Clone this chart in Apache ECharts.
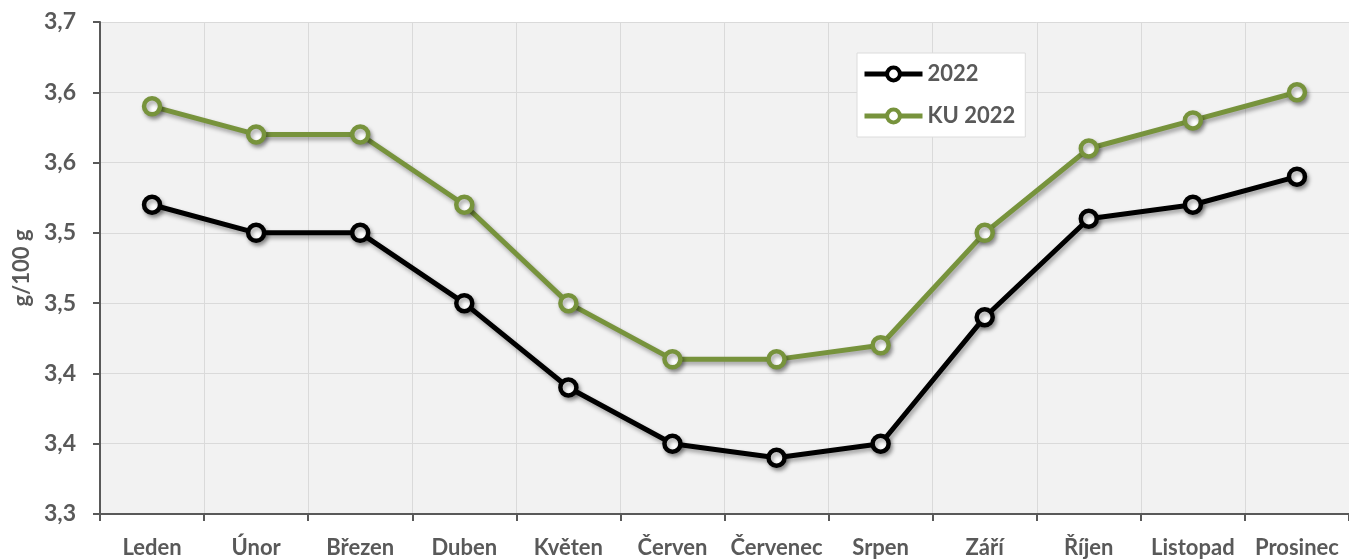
<!DOCTYPE html>
<html>
<head>
<meta charset="utf-8">
<script src="https://cdn.jsdelivr.net/npm/echarts@6/dist/echarts.min.js"></script>
<style>
  html, body { margin: 0; padding: 0; background: #fff; }
  #chart { width: 1349px; height: 560px; }
</style>
</head>
<body>
<div id="chart"></div>
<script>
// categories (months)
const months = ['Leden', 'Únor', 'Březen', 'Duben', 'Květen', 'Červen',
  'Červenec', 'Srpen', 'Září', 'Říjen', 'Listopad', 'Prosinec']

// series values (g/100 g)
const values2022 = [3.52, 3.50, 3.50, 3.45, 3.39, 3.35, 3.34, 3.35, 3.44, 3.51, 3.52, 3.54]
const valuesKU2022 = [3.59, 3.57, 3.57, 3.52, 3.45, 3.41, 3.41, 3.42, 3.50, 3.56, 3.58, 3.60]

// y tick labels (ticks 3.30 .. 3.65 step 0.05, shown with one decimal)
const yTickLabels = ['3,3', '3,4', '3,4', '3,5', '3,5', '3,6', '3,6', '3,7']
const yMin = 3.30
const yStep = 0.05

const textColor = '#595959'
const fontFamily = 'Lato, "Open Sans", sans-serif'

const chart = echarts.init(document.getElementById('chart'))

const shadow = {
  shadowBlur: 4,
  shadowColor: 'rgba(0,0,0,0.35)',
  shadowOffsetX: 2,
  shadowOffsetY: 3
}

const makeSeries = (name, data, color) => ({
  name,
  type: 'line',
  data,
  symbol: 'circle',
  symbolSize: 16,
  showSymbol: true,
  lineStyle: { color, width: 5, ...shadow },
  itemStyle: { color: '#fff', borderColor: color, borderWidth: 4.5, ...shadow },
  emphasis: { disabled: true }
})

chart.setOption({
  animation: false,
  grid: {
    left: 100,
    right: 0,
    top: 22,
    bottom: 46,
    show: true,
    backgroundColor: '#f2f2f2',
    borderWidth: 0
  },
  legend: {
    orient: 'vertical',
    left: 857,
    top: 53,
    itemWidth: 58,
    itemHeight: 16,
    itemGap: 20,
    padding: [10, 10, 10, 5],
    backgroundColor: '#fff',
    borderColor: '#dcdcdc',
    borderWidth: 1,
    lineStyle: { width: 5, shadowBlur: 0, shadowOffsetX: 0, shadowOffsetY: 0 },
    itemStyle: { borderWidth: 4, shadowBlur: 0, shadowOffsetX: 0, shadowOffsetY: 0 },
    textStyle: {
      color: textColor,
      fontSize: 22,
      fontWeight: 'bold',
      fontFamily
    },
    data: ['2022', 'KU 2022']
  },
  xAxis: {
    type: 'category',
    data: months,
    boundaryGap: true,
    axisLine: { lineStyle: { color: textColor, width: 2 } },
    axisTick: { show: true, length: 7, lineStyle: { color: textColor, width: 2 } },
    axisLabel: {
      color: textColor,
      fontSize: 22,
      fontWeight: 'bold',
      fontFamily,
      margin: 23,
      interval: 0
    },
    splitLine: { show: true, lineStyle: { color: '#dadada', width: 1 } }
  },
  yAxis: {
    type: 'value',
    min: 3.30,
    max: 3.65,
    interval: yStep,
    name: 'g/100 g',
    nameLocation: 'middle',
    nameGap: 64,
    nameTextStyle: {
      color: textColor,
      fontSize: 22,
      fontWeight: 'bold',
      fontFamily
    },
    axisLine: { show: true, lineStyle: { color: textColor, width: 2 } },
    axisTick: { show: true, length: 7, lineStyle: { color: textColor, width: 2 } },
    axisLabel: {
      color: textColor,
      fontSize: 23,
      fontWeight: 'bold',
      fontFamily,
      margin: 24,
      formatter: v => yTickLabels[Math.round((v - yMin) / yStep)] || ''
    },
    splitLine: { lineStyle: { color: '#dadada', width: 1 } }
  },
  series: [
    makeSeries('2022', values2022, '#000000'),
    makeSeries('KU 2022', valuesKU2022, '#77933c')
  ]
})
</script>
</body>
</html>
